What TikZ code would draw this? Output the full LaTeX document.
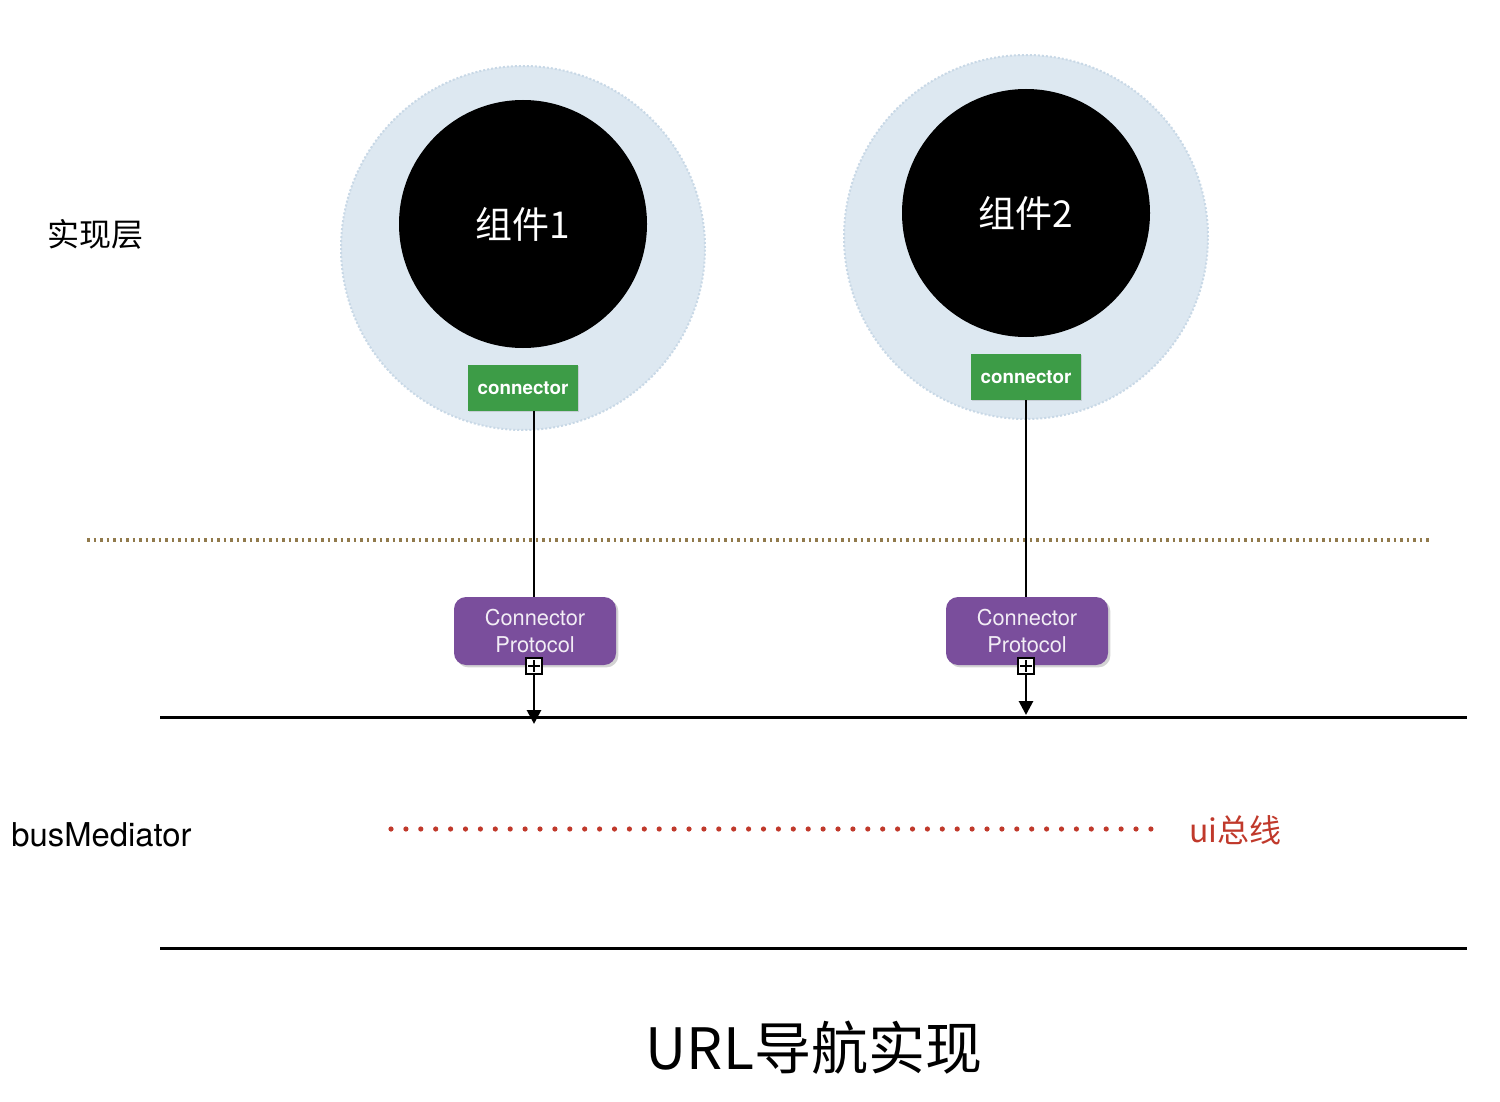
\documentclass[tikz,border=0pt]{standalone}
\usepackage{fontspec}
\setmainfont{TeX Gyre Heros}
\newfontfamily\cjk{Noto Sans CJK SC}
\usetikzlibrary{arrows.meta,shadows}
\definecolor{halo}{HTML}{DDE8F1}
\definecolor{haloedge}{HTML}{C8D8E6}
\definecolor{conngreen}{HTML}{3D9C47}
\definecolor{protopurple}{HTML}{7A4E9C}
\definecolor{sepbrown}{HTML}{917A4C}
\definecolor{busred}{HTML}{C0392B}
\tikzset{
  halobg/.style={circle,fill=halo,draw=haloedge,densely dotted,line width=1pt,minimum size=182pt,inner sep=0pt},
  compcircle/.style={circle,fill=black,minimum size=124pt,inner sep=0pt,text=white,font=\cjk\fontsize{18.5}{20}\selectfont},
  connbox/.style={rectangle,fill=conngreen,minimum width=55pt,minimum height=23pt,inner sep=0pt,text=white,font=\bfseries\fontsize{9.4}{10}\selectfont,drop shadow={shadow xshift=0.5pt,shadow yshift=-0.5pt,opacity=0.25}},
  protobox/.style={rectangle,rounded corners=6pt,fill=protopurple,minimum width=81pt,minimum height=34pt,inner sep=0pt,text=white!90!protopurple,align=center,font=\fontsize{10.9}{13.5}\selectfont,drop shadow={shadow xshift=1.2pt,shadow yshift=-1.2pt,opacity=0.35}},
  plusbox/.style={rectangle,draw=black,fill=white,line width=0.7pt,minimum size=8pt,inner sep=0pt,
    path picture={\draw[line width=0.6pt] ([xshift=-3pt]path picture bounding box.center) -- ([xshift=3pt]path picture bounding box.center)
      ([yshift=-3pt]path picture bounding box.center) -- ([yshift=3pt]path picture bounding box.center);}},
  wire/.style={line width=1.4pt,black},
  busline/.style={line width=1.5pt,black},
  lbl/.style={inner sep=0pt,anchor=west}
}
\begin{document}
\begin{tikzpicture}[x=0.5pt,y=-0.5pt]
\useasboundingbox (0,0) rectangle (1500,1102);

% component 1
\node[halobg] (h1) at (523,248) {};
\node[compcircle] (k1) at (523,224) {组件1};
\node[connbox] (c1) at (523,388) {connector};

% component 2
\node[halobg] (h2) at (1026,237) {};
\node[compcircle] (k2) at (1026,213) {组件2};
\node[connbox] (c2) at (1026,377) {connector};

% layer separator
\coordinate (sepL) at (87,540);
\coordinate (sepR) at (1430,540);
\draw[sepbrown,line width=1.8pt,dash pattern=on 1.4pt off 1.85pt] (sepL) -- (sepR);

% protocol boxes
\node[protobox] (p1) at (535,631) {Connector\\Protocol};
\node[protobox] (p2) at (1027,631) {Connector\\Protocol};

\draw[wire] (c1.south -| 534,0) -- (p1.north -| 534,0);
\draw[wire] (c2.south) -- (p2.north -| c2.south);

% bus lines
\coordinate (busTL) at (160,717);
\coordinate (busTR) at (1467,717);
\coordinate (busBL) at (160,948);
\coordinate (busBR) at (1467,948);
\draw[busline] (busTL) -- (busTR);
\draw[busline] (busBL) -- (busBR);

% protocol plugs and arrows into the bus
\node[plusbox] (s1) at (534,666) {};
\node[plusbox] (s2) at (1026,666) {};
\coordinate (t1) at (534,724);
\coordinate (t2) at (1026,715);
\draw[wire,-{Triangle[width=7pt,length=7pt]}] (s1.south) -- (t1);
\draw[wire,-{Triangle[width=7pt,length=7pt]}] (s2.south) -- (t2);

% bus dotted line
\coordinate (uiL) at (391,829);
\coordinate (uiR) at (1152,829);
\draw[busred,line width=2.6pt,line cap=round,dash pattern=on 0pt off 7.45pt] (uiL) -- (uiR);

% labels
\node[lbl] (impl) at (47,234) {\cjk\fontsize{16}{18}\selectfont 实现层};
\node[lbl] (bus) at (11,835) {\fontsize{16.4}{18}\selectfont busMediator};
\node[lbl,text=busred] (ui) at (1189,830) {\cjk\fontsize{16}{18}\selectfont ui总线};
\node[inner sep=0pt] (title) at (814,1048) {\cjk\fontsize{28.5}{32}\selectfont URL导航实现};
\end{tikzpicture}
\end{document}
